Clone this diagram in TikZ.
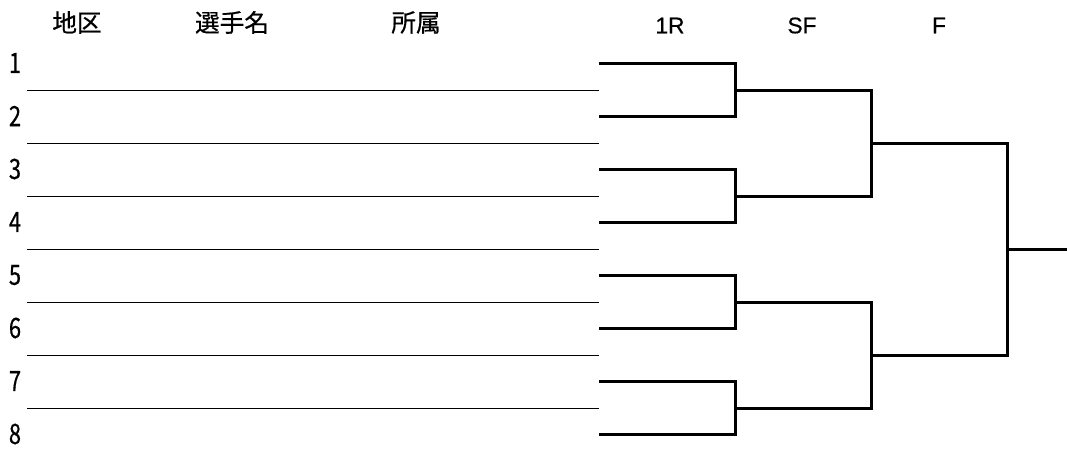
\documentclass[tikz,border=0pt]{standalone}
\usepackage{fontspec}
\setmainfont{Noto Sans CJK JP}
\newfontfamily\kanjifont{Noto Sans CJK JP}[FakeBold = 0.6]
\newfontfamily\roundfont{Liberation Sans}[FakeBold = 0.5]
\begin{document}
\begin{tikzpicture}[x = 0.75pt, y = -0.75pt,
        rule/.style = {line width = 0.75pt},
        bracket/.style = {line width = 2.25pt},
        kanji/.style = {inner sep = 0pt, font = \kanjifont\fontsize{18.5}{18.5}\selectfont},
        round/.style = {inner sep = 0pt, font = \roundfont\fontsize{17}{17}\selectfont},
        entry/.style = {inner sep = 0pt, font = \kanjifont\fontsize{21}{21}\selectfont, xscale = 0.78, transform shape}]
    \useasboundingbox (0, 0) rectangle (1067, 462);
    % Headers
    \node [kanji] (area) at (77, 22.5) {地区};
    \node [kanji] (player) at (232, 22.5) {選手名};
    \node [kanji] (team) at (416, 22.5) {所属};
    \node [round] (round1) at (670, 25.5) {1R};
    \node [round] (semi) at (802, 25.5) {SF};
    \node [round] (final) at (939, 25.5) {F};
    % Entries
    \foreach\i in {1, ..., 8} {
        \node [entry] (N\i) at (15, 10 + 53 * \i) {\i};
        \coordinate (E\i) at (599, 10.5 + 53 * \i);
    }
    % Rules between the rows
    \foreach\i in {1, ..., 7} {
        \draw [rule] (27, 37.5 + 53 * \i) -- (599, 37.5 + 53 * \i);
    }
    % Joining points
    \coordinate (S1) at (735.5, 90.5);
    \coordinate (S2) at (735.5, 196.5);
    \coordinate (S3) at (735.5, 302.5);
    \coordinate (S4) at (735.5, 408.5);
    \coordinate (F1) at (871.5, 143.5);
    \coordinate (F2) at (871.5, 355.5);
    \coordinate (W) at (1007.5, 249.5);
    \coordinate (C) at (1067, 249.5);
    % First round
    \draw [bracket] (E1) -| (S1) |- (E2);
    \draw [bracket] (E3) -| (S2) |- (E4);
    \draw [bracket] (E5) -| (S3) |- (E6);
    \draw [bracket] (E7) -| (S4) |- (E8);
    % Semi finals
    \draw [bracket] (S1) -| (F1) |- (S2);
    \draw [bracket] (S3) -| (F2) |- (S4);
    % Final
    \draw [bracket] (F1) -| (W) |- (F2);
    \draw [bracket] (W) -- (C);
\end{tikzpicture}
\end{document}
